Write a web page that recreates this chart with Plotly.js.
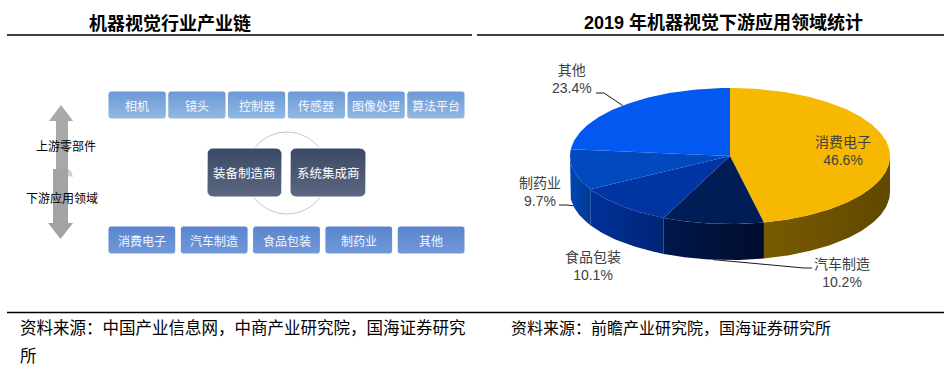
<!DOCTYPE html>
<html><head><meta charset="utf-8">
<script src="https://cdn.plot.ly/plotly-3.0.1.min.js"></script>
<style>html,body{margin:0;padding:0;background:#fff;} #chart{width:944px;height:370px;}</style>
</head><body><div id="chart"></div>
<script>
// ---------- data ----------
const pieCategories = ['消费电子', '汽车制造', '食品包装', '制药业', '其他'];
const pieShares = [46.6, 10.2, 10.1, 9.7, 23.4];
const upstreamParts = ['相机', '镜头', '控制器', '传感器', '图像处理', '算法平台'];
const midstreamRoles = ['装备制造商', '系统集成商'];
const downstreamFields = ['消费电子', '汽车制造', '食品包装', '制药业', '其他'];
const arrowLabels = ['上游零部件', '下游应用领域'];
const leftTitle = '机器视觉行业产业链';
const rightTitle = '2019 年机器视觉下游应用领域统计';
const leftSourceLines = ['资料来源：中国产业信息网，中商产业研究院，国海证券研究', '所'];
const rightSource = '资料来源：前瞻产业研究院，国海证券研究所';

// ---------- styles ----------
const CJK = '"Noto Sans CJK SC", sans-serif';
const MIX = '"Liberation Sans", "Noto Sans CJK SC", sans-serif';
const topColors = ['#F6B800', '#001D56', '#0035A3', '#0049BE', '#0358F2'];
const sideColors = [['#785A00', '#604800'], ['#00184A', '#000C2C'], ['#00319A', '#002474'], ['#0046B2', '#003A96'], ['#0050DD', '#0046C0']];

const traces = [], shapes = [], annotations = [];

function roundRect(x0, y0, x1, y1, r) {
  const xs = [], ys = [];
  const corners = [[x1 - r, y0 + r, -90, 0], [x1 - r, y1 - r, 0, 90], [x0 + r, y1 - r, 90, 180], [x0 + r, y0 + r, 180, 270]];
  for (const [cx, cy, a0, a1] of corners) {
    for (let k = 0; k <= 6; k++) {
      const t = (a0 + (a1 - a0) * k / 6) * Math.PI / 180;
      xs.push(cx + r * Math.cos(t)); ys.push(cy + r * Math.sin(t));
    }
  }
  xs.push(xs[0]); ys.push(ys[0]);
  return { xs, ys };
}
function poly(xs, ys, c0, c1, type, lineColor, lineWidth) {
  const t = { type: 'scatter', mode: 'lines', x: xs, y: ys, fill: 'toself', fillcolor: c0,
    line: { color: lineColor || 'rgba(0,0,0,0)', width: lineWidth || 0 }, hoverinfo: 'skip', showlegend: false };
  if (c1) t.fillgradient = { type: type || 'vertical', colorscale: [[0, c0], [1, c1]] };
  traces.push(t);
}
function text(x, y, s, size, color, family, opts) {
  annotations.push(Object.assign({ x, y, xref: 'x', yref: 'y', text: s, showarrow: false,
    font: { size, color, family }, xanchor: 'center', yanchor: 'middle' }, opts || {}));
}

// ---------- left diagram ----------
shapes.push({ type: 'path', xref: 'x', yref: 'y', path: 'M61,105 L49,121 L56,121 L56,177 L68,177 L68,121 L73,121 Z', fillcolor: '#A9A9A9', line: { width: 0 } });
shapes.push({ type: 'path', xref: 'x', yref: 'y', path: 'M53,169 L68,169 L68,223 L73,223 L60.5,239 L48,223 L53,223 Z', fillcolor: '#A3A3A3', line: { width: 0 } });
shapes.push({ type: 'path', xref: 'x', yref: 'y', path: 'M68,169 L71,171 L73,177 L68,176 Z', fillcolor: '#D0D0D0', line: { width: 0 } });
text(66, 145, arrowLabels[0], 12, '#000', CJK);
text(62, 197, arrowLabels[1], 12, '#000', CJK);

shapes.push({ type: 'circle', xref: 'x', yref: 'y', x0: 246, x1: 328, y0: 132, y1: 214, line: { color: '#C8C8C8', width: 1 }, layer: 'below' });

(function () {
  const x0 = 108, x1 = 465, gap = 1.5, n = upstreamParts.length;
  const w = (x1 - x0 - gap * (n - 1)) / n;
  upstreamParts.forEach((s, i) => {
    const a = x0 + i * (w + gap);
    const p = roundRect(a, 91, a + w, 119, 3);
    poly(p.xs, p.ys, '#93B9E4', '#6B99D5', 'vertical', '#FFFFFF', 1);
    text(a + w / 2, 105, s, 12, '#F4F7FC', CJK);
  });
})();
[[207, 282], [290, 366]].forEach((r, i) => {
  const p = roundRect(r[0], 148, r[1], 197, 6);
  poly(p.xs, p.ys, '#5C6882', '#3A4965', 'vertical', '#FFFFFF', 1);
  text((r[0] + r[1]) / 2, 172, midstreamRoles[i], 12.5, '#FFFFFF', CJK);
});
(function () {
  const x0 = 108, x1 = 465, gap = 4.5, n = downstreamFields.length;
  const w = (x1 - x0 - gap * (n - 1)) / n;
  downstreamFields.forEach((s, i) => {
    const a = x0 + i * (w + gap);
    const p = roundRect(a, 226, a + w, 254, 3);
    poly(p.xs, p.ys, '#7199DA', '#5A84CD', 'vertical', '#FFFFFF', 1);
    text(a + w / 2, 240, s, 12, '#F4F7FC', CJK);
  });
})();

// ---------- 3D pie ----------
const cx = 730, cy = 156, ra = 160, rb = 68, depth = 36;
function pt(t, dy) { return [cx + ra * Math.sin(t), cy - rb * Math.cos(t) + (dy || 0)]; }
function arc(t0, t1, dy) {
  const n = Math.max(2, Math.ceil(Math.abs(t1 - t0) / (Math.PI / 180)));
  const xs = [], ys = [];
  for (let k = 0; k <= n; k++) { const p = pt(t0 + (t1 - t0) * k / n, dy); xs.push(p[0]); ys.push(p[1]); }
  return { xs, ys };
}
const total = pieShares.reduce((s, v) => s + v, 0);
const slices = [];
let acc = 0;
pieShares.forEach((v) => {
  const t0 = acc / total * 2 * Math.PI; acc += v;
  const t1 = acc / total * 2 * Math.PI;
  slices.push({ t0, t1, mid: (t0 + t1) / 2 });
});
slices.forEach((s, i) => {
  const lo = Math.max(s.t0, Math.PI / 2), hi = Math.min(s.t1, 3 * Math.PI / 2);
  if (lo >= hi) return;
  const top = arc(lo, hi, 0), bot = arc(hi, lo, depth);
  const xs = top.xs.concat(bot.xs, [top.xs[0]]), ys = top.ys.concat(bot.ys, [top.ys[0]]);
  poly(xs, ys, sideColors[i][0], sideColors[i][1], 'horizontal');
});
slices.forEach((s, i) => {
  const a = arc(s.t0, s.t1, 0);
  const xs = [cx].concat(a.xs, [cx]), ys = [cy].concat(a.ys, [cy]);
  poly(xs, ys, topColors[i]);
});
const labelPos = [[843, 151], [842, 273], [593, 266], [540, 192], [572, 79]];
pieCategories.forEach((c, i) => {
  text(labelPos[i][0], labelPos[i][1], c + '<br>' + pieShares[i].toFixed(1) + '%', 14, '#404040', MIX);
});
function anchor(i) {
  const m = slices[i].mid;
  const lower = Math.cos(m) < 0;
  return pt(m, lower ? depth : 0);
}
const lines = [[4, [[596, 93], [604, 93]]], [3, [[559, 205], [567, 205]]], [1, [[812, 268], [804, 268]]]];
lines.forEach(([i, pts]) => {
  const e = anchor(i);
  shapes.push({ type: 'path', xref: 'x', yref: 'y', path: 'M' + pts.map(p => p.join(',')).join(' L') + ' L' + e[0] + ',' + e[1], line: { color: '#1A1A1A', width: 1 } });
});

// ---------- titles, rules, sources ----------
text(170, 22, '<b>' + leftTitle + '</b>', 18, '#000', CJK);
text(723, 22, '<b>' + rightTitle + '</b>', 18, '#000', MIX);
shapes.push({ type: 'line', xref: 'x', yref: 'y', x0: 7, x1: 472, y0: 35, y1: 35, line: { color: '#000', width: 1.5 } });
shapes.push({ type: 'line', xref: 'x', yref: 'y', x0: 477, x1: 944, y0: 35, y1: 35, line: { color: '#000', width: 1.5 } });
shapes.push({ type: 'line', xref: 'x', yref: 'y', x0: 7, x1: 944, y0: 312.5, y1: 312.5, line: { color: '#000', width: 1.5 } });
text(18, 327, leftSourceLines[0], 16.5, '#000', CJK, { xanchor: 'left', align: 'left' });
text(18, 355, leftSourceLines[1], 16.5, '#000', CJK, { xanchor: 'left', align: 'left' });
text(509, 327, rightSource, 16, '#000', CJK, { xanchor: 'left', align: 'left' });

const layout = {
  width: 944, height: 370, margin: { l: 0, r: 0, t: 0, b: 0 },
  paper_bgcolor: '#fff', plot_bgcolor: '#fff', showlegend: false,
  xaxis: { range: [0, 944], visible: false, fixedrange: true },
  yaxis: { range: [370, 0], visible: false, fixedrange: true },
  shapes, annotations
};
Plotly.newPlot('chart', traces, layout, { staticPlot: true, displayModeBar: false });
</script>
</body></html>
